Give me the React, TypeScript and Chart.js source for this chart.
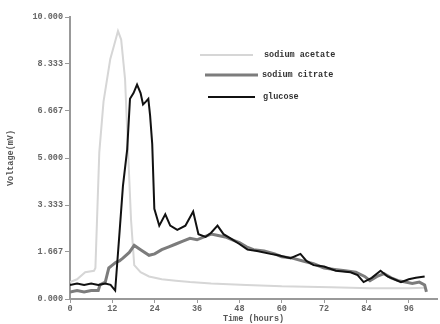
import React, { useEffect, useRef } from "react";
import { Chart, registerables } from "chart.js";

Chart.register(...registerables);

const xTickValues = [0, 12, 24, 36, 48, 60, 72, 84, 96];
const yTickLabels = ["0.000", "1.667", "3.333", "5.000", "6.667", "8.333", "10.000"];
const yTickValues = [0, 10 / 6, 20 / 6, 5, 40 / 6, 50 / 6, 10];

const seriesNames = ["sodium acetate", "sodium citrate", "glucose"];

const acetateHours = [0, 2, 4.3, 6.8, 7.2, 8.3, 9.5, 11.4, 12.5, 13.6, 14.5, 15.6, 16.5, 17.3, 18.2, 20, 22.4, 26, 30, 34, 40, 50, 60, 74, 85, 96, 100.5];
const acetateValues = [0.6, 0.7, 0.95, 1.0, 1.1, 5.2, 7.0, 8.5, 9.0, 9.5, 9.2, 7.8, 5.1, 2.8, 1.2, 0.95, 0.8, 0.7, 0.65, 0.6, 0.55, 0.5, 0.45, 0.42, 0.38, 0.38, 0.4];

const citrateHours = [0, 2, 4, 6, 8, 8.5, 10, 11, 12, 13, 14, 15, 16.8, 18.2, 20, 22.4, 24, 26, 28, 30, 32, 34, 36, 38, 40, 42, 44, 46, 48, 50, 52, 55, 58, 60, 63, 66, 69, 72, 75, 78, 81, 83.5, 85, 87, 89, 91, 93, 95, 97, 99, 100.5, 101];
const citrateValues = [0.25, 0.3, 0.25, 0.3, 0.3, 0.5, 0.6, 1.1, 1.2, 1.3, 1.35, 1.45, 1.65, 1.9, 1.75, 1.55, 1.6, 1.75, 1.85, 1.95, 2.05, 2.15, 2.1, 2.2, 2.3, 2.25, 2.2, 2.1, 2.0, 1.85, 1.75, 1.7, 1.6, 1.5, 1.45, 1.35, 1.25, 1.1, 1.05, 1.0, 0.95, 0.8, 0.65, 0.8, 0.9, 0.75, 0.65, 0.6, 0.55, 0.6, 0.5, 0.25];

const glucoseHours = [0, 2, 4, 6, 8, 10, 11.5, 12.8, 14, 15, 16.2, 17, 18, 19, 20, 20.7, 21.5, 22.2, 22.7, 23.3, 23.9, 25.3, 27, 28.4, 30.4, 32.7, 34.9, 36.4, 38.4, 40, 41.8, 43.5, 45.5, 48, 50.3, 53, 56.8, 59, 62.5, 65.3, 67, 69, 72, 75.3, 79.5, 81.5, 83.2, 85.5, 88, 90, 93.8, 96, 98, 100.5];
const glucoseValues = [0.5, 0.55, 0.5, 0.55, 0.5, 0.55, 0.5, 0.3, 2.3, 4.0, 5.3, 7.1, 7.3, 7.6, 7.3, 6.9, 7.0, 7.1, 6.5, 5.5, 3.2, 2.6, 3.0, 2.6, 2.45, 2.6, 3.1, 2.3, 2.2, 2.35, 2.6, 2.3, 2.15, 1.95, 1.75, 1.7, 1.6, 1.55, 1.45, 1.6, 1.35, 1.2, 1.15, 1.0, 0.95, 0.85, 0.6, 0.75, 1.0, 0.8, 0.6, 0.7, 0.75, 0.8];

const colors = ["#d6d6d6", "#7c7c7c", "#111111"];
const widths = [2, 3, 2];

const FONT = "'Liberation Mono', 'DejaVu Sans Mono', monospace";

const toPoints = (xs: number[], ys: number[]) => xs.map((x, i) => ({ x, y: ys[i] }));

const legendPlugin = {
  id: "customLegend",
  afterDatasetsDraw(chart: any) {
    const ctx = chart.ctx;
    const rows = [
      { x1: 200, x2: 253, y: 55, tx: 264 },
      { x1: 205, x2: 258, y: 75, tx: 262 },
      { x1: 208, x2: 255, y: 97, tx: 263 },
    ];
    ctx.save();
    rows.forEach((r, i) => {
      ctx.strokeStyle = colors[i];
      ctx.lineWidth = widths[i];
      ctx.beginPath();
      ctx.moveTo(r.x1, r.y);
      ctx.lineTo(r.x2, r.y);
      ctx.stroke();
      ctx.fillStyle = "#333";
      ctx.font = `bold 8.5px ${FONT}`;
      ctx.textBaseline = "middle";
      ctx.textAlign = "left";
      ctx.fillText(seriesNames[i], r.tx, r.y);
    });
    ctx.restore();
  },
};

export default function App() {
  const ref = useRef<HTMLCanvasElement | null>(null);
  useEffect(() => {
    if (!ref.current) return;
    const chart = new Chart(ref.current, {
      type: "line",
      data: {
        datasets: [
          {
            label: seriesNames[2],
            data: toPoints(glucoseHours, glucoseValues),
            borderColor: colors[2],
            borderWidth: widths[2],
            pointRadius: 0,
            tension: 0,
            order: 0,
          },
          {
            label: seriesNames[1],
            data: toPoints(citrateHours, citrateValues),
            borderColor: colors[1],
            borderWidth: widths[1],
            pointRadius: 0,
            tension: 0,
            order: 1,
          },
          {
            label: seriesNames[0],
            data: toPoints(acetateHours, acetateValues),
            borderColor: colors[0],
            borderWidth: widths[0],
            pointRadius: 0,
            tension: 0,
            order: 2,
          },
        ],
      },
      options: {
        animation: false,
        responsive: false,
        maintainAspectRatio: false,
        layout: { padding: { top: 17, right: 3, left: 0, bottom: 0 } },
        plugins: { legend: { display: false }, tooltip: { enabled: false } },
        scales: {
          x: {
            type: "linear",
            min: 0,
            max: 104,
            afterBuildTicks: (axis: any) => {
              axis.ticks = xTickValues.map((v) => ({ value: v }));
            },
            afterFit: (axis: any) => {
              axis.height = 25;
            },
            ticks: {
              color: "#666",
              font: { family: FONT, size: 8.5, weight: "bold" },
              padding: 1,
              maxRotation: 0,
              autoSkip: false,
            },
            grid: { display: true, drawOnChartArea: false, drawTicks: true, tickLength: 4, color: "#999" },
            border: { display: true, color: "#999", width: 2 },
            title: {
              display: true,
              text: "Time (hours)",
              color: "#555",
              font: { family: FONT, size: 8.5, weight: "bold" },
              padding: { top: 0, bottom: 0 },
            },
          },
          y: {
            type: "linear",
            min: 0,
            max: 10,
            afterBuildTicks: (axis: any) => {
              axis.ticks = yTickValues.map((v) => ({ value: v }));
            },
            afterFit: (axis: any) => {
              axis.width = 70;
            },
            ticks: {
              color: "#666",
              font: { family: FONT, size: 8.5, weight: "bold" },
              padding: 2,
              autoSkip: false,
              callback: (_v: any, i: number) => yTickLabels[i],
            },
            grid: { display: true, drawOnChartArea: false, drawTicks: true, tickLength: 5, color: "#999" },
            border: { display: true, color: "#999", width: 2 },
            title: {
              display: true,
              text: "Voltage(mV)",
              color: "#555",
              font: { family: FONT, size: 8.5, weight: "bold" },
              padding: { top: 6, bottom: 0 },
            },
          },
        },
      },
      plugins: [legendPlugin],
    } as any);
    return () => chart.destroy();
  }, []);
  return (
    <div style={{ position: "absolute", left: 0, top: 0, width: 440, height: 324, background: "#fff" }}>
      <canvas ref={ref} width={440} height={324} style={{ width: 440, height: 324, display: "block" }} />
    </div>
  );
}
